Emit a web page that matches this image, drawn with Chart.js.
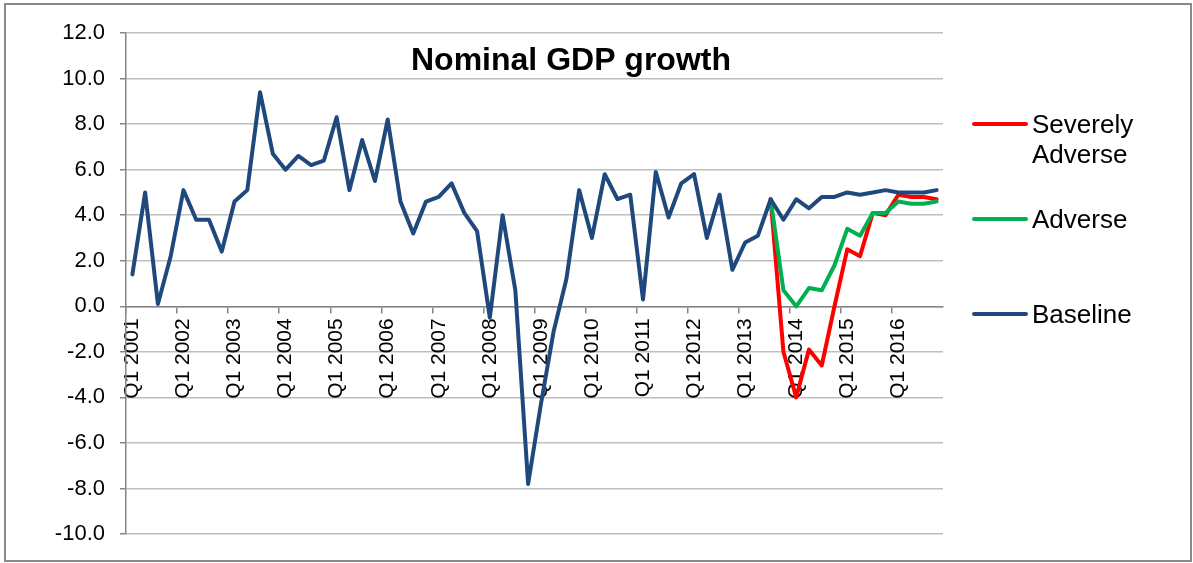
<!DOCTYPE html>
<html>
<head>
<meta charset="utf-8">
<title>Nominal GDP growth</title>
<script src="https://cdn.jsdelivr.net/npm/chart.js@4.4.1/dist/chart.umd.min.js"></script>
<style>
  html, body { margin: 0; padding: 0; background: #fff; }
  #wrap { width: 1193px; height: 563px; }
</style>
</head>
<body>
<div id="wrap"><canvas id="gdpChart" width="1193" height="563"></canvas></div>
<script>
// quarters 2001 Q1 .. 2016 Q4
const years = [2001, 2002, 2003, 2004, 2005, 2006, 2007, 2008, 2009, 2010, 2011, 2012, 2013, 2014, 2015, 2016]
const quarters = ['Q1', 'Q2', 'Q3', 'Q4']
const categories = years.flatMap(y => quarters.map(q => q + ' ' + y))

const baseline = [
  1.4, 5.0, 0.1, 2.2, 5.1, 3.8, 3.8, 2.4,
  4.6, 5.1, 9.4, 6.7, 6.0, 6.6, 6.2, 6.4,
  8.3, 5.1, 7.3, 5.5, 8.2, 4.6, 3.2, 4.6,
  4.8, 5.4, 4.1, 3.3, -0.5, 4.0, 0.7, -7.8,
  -4.3, -1.1, 1.2, 5.1, 3.0, 5.8, 4.7, 4.9,
  0.3, 5.9, 3.9, 5.4, 5.8, 3.0, 4.9, 1.6,
  2.8, 3.1, 4.7, 3.8, 4.7, 4.3, 4.8, 4.8,
  5.0, 4.9, 5.0, 5.1, 5.0, 5.0, 5.0, 5.1
]
// scenarios start from Q3 2013
const adverse = [
  ...Array(50).fill(null),
  4.7, 0.7, 0.0, 0.8, 0.7, 1.8, 3.4, 3.1,
  4.1, 4.1, 4.6, 4.5, 4.5, 4.6
]
const severelyAdverse = [
  ...Array(50).fill(null),
  4.7, -2.0, -4.0, -1.9, -2.6, 0.0, 2.5, 2.2,
  4.1, 4.0, 4.9, 4.8, 4.8, 4.7
]
const yTicks = [-10, -8, -6, -4, -2, 0, 2, 4, 6, 8, 10, 12]

const FONT = "'Liberation Sans', Arial, sans-serif"
const GRID = '#BFBFBF'
const AXIS = '#868686'

const series = [
  { label: ['Severely', 'Adverse'], data: severelyAdverse, color: '#FF0000' },
  { label: ['Adverse'], data: adverse, color: '#00B050' },
  { label: ['Baseline'], data: baseline, color: '#1F497D' }
]

// frame, title and legend drawn on the canvas
const decor = {
  id: 'decor',
  beforeDraw(chart) {
    const c = chart.ctx
    c.save()
    c.fillStyle = '#fff'
    c.fillRect(0, 0, chart.width, chart.height)
    c.strokeStyle = '#8a8a8a'
    c.lineWidth = 2
    c.strokeRect(5, 4, 1186, 557)
    c.restore()
  },
  afterDraw(chart) {
    const c = chart.ctx
    c.save()
    c.fillStyle = '#000'
    c.font = 'bold 32px ' + FONT
    c.textAlign = 'center'
    c.textBaseline = 'alphabetic'
    c.fillText('Nominal GDP growth', 571, 70)

    const rows = [124, 219, 314]
    c.font = '26px ' + FONT
    c.textAlign = 'left'
    series.forEach((s, i) => {
      const y = rows[i]
      c.strokeStyle = s.color
      c.lineWidth = 4
      c.lineCap = 'round'
      c.beginPath()
      c.moveTo(974, y)
      c.lineTo(1026, y)
      c.stroke()
      s.label.forEach((t, k) => c.fillText(t, 1032, y + 9 + k * 30))
    })
    c.restore()
  }
}

const ctx = document.getElementById('gdpChart').getContext('2d')
new Chart(ctx, {
  type: 'line',
  data: {
    labels: categories,
    datasets: series.slice().reverse().map(s => ({
      label: s.label.join(' '),
      data: s.data,
      borderColor: s.color,
      backgroundColor: s.color,
      borderWidth: 4,
      borderJoinStyle: 'round',
      borderCapStyle: 'round',
      pointRadius: 0,
      tension: 0,
      fill: false
    }))
  },
  options: {
    responsive: false,
    animation: false,
    layout: { padding: { left: 6, top: 33, right: 250, bottom: 29 } },
    plugins: {
      legend: { display: false },
      title: { display: false },
      tooltip: { enabled: false }
    },
    scales: {
      x: {
        type: 'category',
        position: { y: 0 },
        offset: true,
        grid: {
          offset: true,
          drawOnChartArea: false,
          drawTicks: true,
          tickLength: 6,
          lineWidth: 1.5,
          color: c => (c.index % 4 === 0 ? AXIS : 'rgba(0,0,0,0)')
        },
        border: { display: true, color: AXIS, width: 1.5 },
        ticks: {
          autoSkip: false,
          minRotation: 90,
          maxRotation: 90,
          padding: 6,
          color: '#000',
          font: { family: FONT, size: 21 },
          callback: (v, i) => (i % 4 === 0 ? categories[i] : '')
        }
      },
      y: {
        min: -10,
        max: 12,
        afterFit: s => { s.width = 120 },
        afterBuildTicks: s => { s.ticks = yTicks.map(v => ({ value: v })) },
        grid: {
          color: GRID,
          lineWidth: 1.5,
          tickLength: 6,
          tickColor: AXIS
        },
        border: { display: true, color: AXIS, width: 1.5 },
        ticks: {
          padding: 15,
          color: '#000',
          font: { family: FONT, size: 22 },
          callback: v => v.toFixed(1)
        }
      }
    }
  },
  plugins: [decor]
})
</script>
</body>
</html>
